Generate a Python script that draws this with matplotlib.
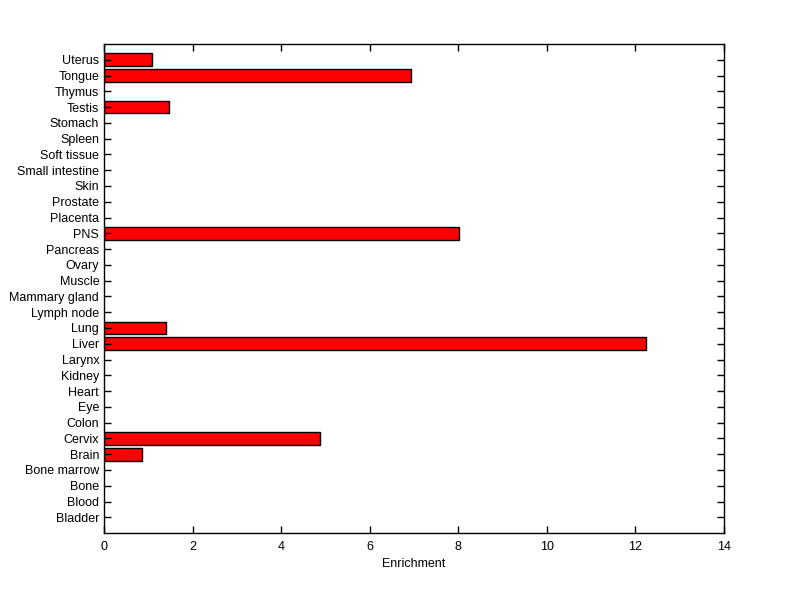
import matplotlib
matplotlib.use("Agg")
import matplotlib.pyplot as plt

tissues = ["Bladder", "Blood", "Bone", "Bone marrow", "Brain", "Cervix", "Colon", "Eye",
           "Heart", "Kidney", "Larynx", "Liver", "Lung", "Lymph node", "Mammary gland",
           "Muscle", "Ovary", "Pancreas", "PNS", "Placenta", "Prostate", "Skin",
           "Small intestine", "Soft tissue", "Spleen", "Stomach", "Testis", "Thymus",
           "Tongue", "Uterus"]
enrichment = [0, 0, 0, 0, 0.86, 4.87, 0, 0,
              0, 0, 0, 12.23, 1.39, 0, 0,
              0, 0, 0, 8.02, 0, 0, 0,
              0, 0, 0, 0, 1.47, 0,
              6.94, 1.09]

plt.rcParams['font.family'] = ['Liberation Sans', 'DejaVu Sans']

fig = plt.figure(figsize=(8, 5.99), dpi=100)
ax = fig.add_axes([0.13, 0.11, 0.775, 0.8166])

pos = list(range(1, len(tissues) + 1))
vals = [v if v > 0 else float('nan') for v in enrichment]
ax.barh(pos, vals, height=0.8, color="red", edgecolor="black", linewidth=1)

ax.set_xlim(0, 14)
ax.set_ylim(0, len(tissues) + 1)
ax.set_xticks(range(0, 15, 2))
ax.set_yticks(pos)
ax.set_yticklabels(tissues)
ax.set_xlabel("Enrichment", fontsize=9, labelpad=3)
ax.tick_params(direction="in", top=True, right=True, labelsize=9, length=5, width=1)
ax.tick_params(axis="x", pad=6)
for s in ax.spines.values():
    s.set_linewidth(1)

fig.savefig("out.png", dpi=100)
